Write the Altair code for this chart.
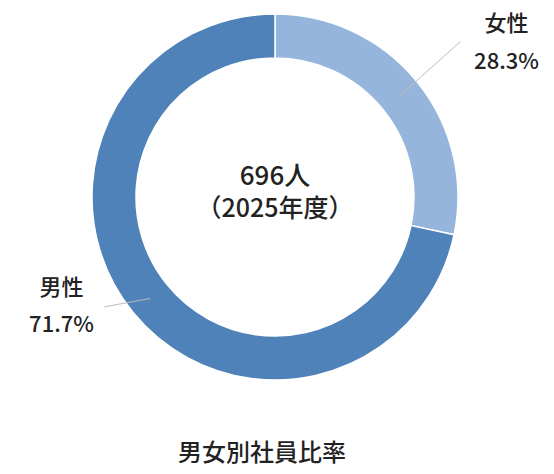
import altair as alt
import pandas as pd

# ---- data ----
categories = ["女性", "男性"]
shares = [28.3, 71.7]
orders = [0, 1]
colors = ["#96B5DC", "#4F82B8"]
total_people = 696
fiscal_year = 2025
chart_title = "男女別社員比率"

df = pd.DataFrame({"category": categories, "share": shares, "order": orders})

# ---- layout ----
W, H = 538, 458
CX, CY = 267, 189
R_OUT, R_IN = 183, 139
R_MID = (R_OUT + R_IN) / 2
FONT = "Noto Sans CJK JP"
TXT = "#222222"

# label first-line placement (radius, angle offset in degrees from slice middle)
lab_r = "datum.category == '女性' ? 289 : 232"
lab_off = "datum.category == '女性' ? 2.3 : 16.0"
lab_lh = "datum.category == '女性' ? 38 : 37"
# leader outer end (radius, angle offset)
lead_r = "datum.category == '女性' ? 242 : 203"
lead_off = "datum.category == '女性' ? -0.9 : 6.3"

base = (
    alt.Chart(df)
    .transform_joinaggregate(total="sum(share)")
    .transform_window(cum="sum(share)", sort=[alt.SortField("order")])
    .transform_calculate(mid="(datum.cum - datum.share / 2) / datum.total * 2 * PI")
)

arc = alt.Chart(df).mark_arc(
    innerRadius=R_IN, outerRadius=R_OUT, stroke="white", strokeWidth=1.5
).encode(
    theta=alt.Theta("share:Q", stack=True),
    color=alt.Color("category:N", scale=alt.Scale(domain=categories, range=colors), legend=None),
    order=alt.Order("order:Q"),
    x=alt.value(CX),
    y=alt.value(CY),
)

leaders = base.transform_calculate(
    x1=f"{CX} + {R_MID} * sin(datum.mid)",
    y1=f"{CY} - {R_MID} * cos(datum.mid)",
    a2=f"datum.mid + ({lead_off}) * PI / 180",
    r2=lead_r,
).transform_calculate(
    x2=f"{CX} + datum.r2 * sin(datum.a2)",
    y2=f"{CY} - datum.r2 * cos(datum.a2)",
).mark_rule(color="#BDBDBD", strokeWidth=1).encode(
    x=alt.X("x1:Q", scale=None, axis=None),
    y=alt.Y("y1:Q", scale=None, axis=None),
    x2="x2:Q",
    y2="y2:Q",
)

label_pos = base.transform_calculate(
    a=f"datum.mid + ({lab_off}) * PI / 180",
    r=lab_r,
    lh=lab_lh,
    pct="format(datum.share, '.1f') + '%'",
).transform_calculate(
    lx=f"{CX} + datum.r * sin(datum.a)",
    ly=f"{CY} - datum.r * cos(datum.a)",
).transform_calculate(
    ly2="datum.ly + datum.lh",
)

name_labels = label_pos.mark_text(
    font=FONT, fontSize=22, fontWeight=500, color=TXT, align="center", baseline="middle"
).encode(
    x=alt.X("lx:Q", scale=None, axis=None),
    y=alt.Y("ly:Q", scale=None, axis=None),
    text="category:N",
)

pct_labels = label_pos.mark_text(
    font=FONT, fontSize=22, fontWeight=500, color=TXT, align="center", baseline="middle"
).encode(
    x=alt.X("lx:Q", scale=None, axis=None),
    y=alt.Y("ly2:Q", scale=None, axis=None),
    text="pct:N",
)

one = pd.DataFrame({"t": [0]})
center1 = alt.Chart(one).mark_text(
    font=FONT, fontSize=26, fontWeight=500, color=TXT, align="center", baseline="middle"
).encode(
    x=alt.value(CX),
    y=alt.value(169),
    text=alt.value(f"{total_people}人"),
)
center2 = alt.Chart(one).mark_text(
    font=FONT, fontSize=25, fontWeight=500, color=TXT, align="center", baseline="middle"
).encode(
    x=alt.value(CX),
    y=alt.value(201),
    text=alt.value(f"（{fiscal_year}年度）"),
)

title = alt.Chart(one).mark_text(
    font=FONT, fontSize=24, fontWeight=500, color=TXT, align="center", baseline="middle"
).encode(
    x=alt.value(254),
    y=alt.value(446),
    text=alt.value(chart_title),
)

chart = (
    alt.layer(arc, leaders, name_labels, pct_labels, center1, center2, title)
    .properties(width=W, height=H, padding=0, autosize="none")
    .configure_view(stroke=None)
)

chart.save("out.html", embed_options={"renderer": "svg", "actions": False})
